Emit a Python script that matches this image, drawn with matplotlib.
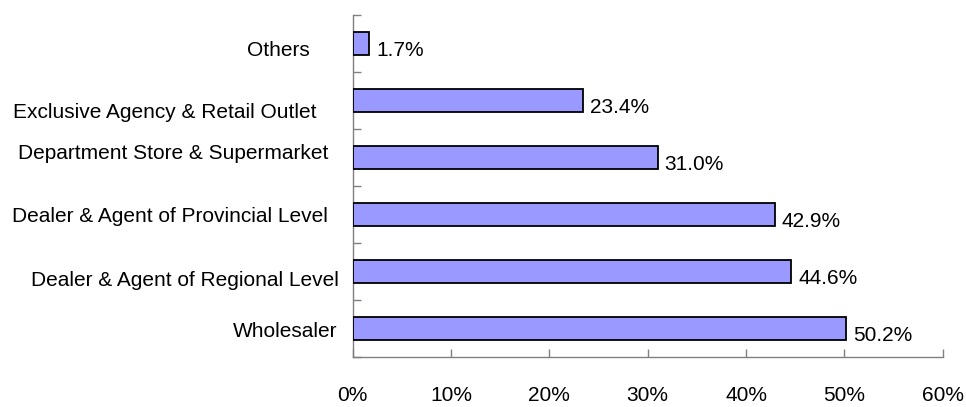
import matplotlib
matplotlib.use("Agg")
import matplotlib.pyplot as plt
import matplotlib.transforms as mtransforms

plt.rcParams['font.family'] = ['Liberation Sans', 'DejaVu Sans']

# Sales channels, listed bottom to top
categories = [
    "Wholesaler",
    "Dealer & Agent of Regional Level",
    "Dealer & Agent of Provincial Level",
    "Department Store & Supermarket",
    "Exclusive Agency & Retail Outlet",
    "Others",
]
shares = [50.2, 44.6, 42.9, 31.0, 23.4, 1.7]
x_ticks = [0, 10, 20, 30, 40, 50, 60]
x_tick_labels = ["0%", "10%", "20%", "30%", "40%", "50%", "60%"]

# per-label nudges (pixels: right, up) for the category names
label_dx = [-14.9, -13.3, -24.6, -24.3, -35.9, -42.6]
label_dy = [-1.5, -6.8, -0.5, 5.8, -9.5, -4.8]

FS = 15
fig = plt.figure(figsize=(9.66, 4.07), dpi=100)
ax = fig.add_axes([0.365, 0.1229, 0.611, 0.8402])

pos = list(range(len(categories)))
ax.barh(pos, shares, height=0.41, color="#9999FF", edgecolor="black",
        linewidth=1.3, zorder=3)

for p, v in zip(pos, shares):
    ax.annotate(f"{v:.1f}%", xy=(v, p), xytext=(7, -7),
                textcoords="offset pixels", ha="left", va="center",
                fontsize=FS, color="black")

ax.set_xlim(0, 60)
ax.set_ylim(-0.5, len(categories) - 0.5)
ax.set_xticks(x_ticks)
ax.set_xticklabels(x_tick_labels, fontsize=FS)

# category names as labels, with ticks drawn on the band boundaries
ax.set_yticks(pos)
ax.set_yticklabels(categories, fontsize=FS)
ax.set_yticks([p - 0.5 for p in pos] + [len(categories) - 0.5], minor=True)
ax.tick_params(axis="y", which="major", length=0, pad=0)
ax.tick_params(axis="y", which="minor", direction="in", length=6,
               color="#808080", width=1)
ax.tick_params(axis="x", direction="in", length=6, color="#808080",
               width=1, pad=21)

for lab, dx, dy in zip(ax.get_yticklabels(), label_dx, label_dy):
    off = mtransforms.ScaledTranslation(dx / 100, dy / 100, fig.dpi_scale_trans)
    lab.set_transform(lab.get_transform() + off)

for side in ("top", "right"):
    ax.spines[side].set_visible(False)
for side in ("left", "bottom"):
    ax.spines[side].set_color("#808080")
    ax.spines[side].set_linewidth(1)

fig.savefig("out.png", dpi=100, facecolor="white")
